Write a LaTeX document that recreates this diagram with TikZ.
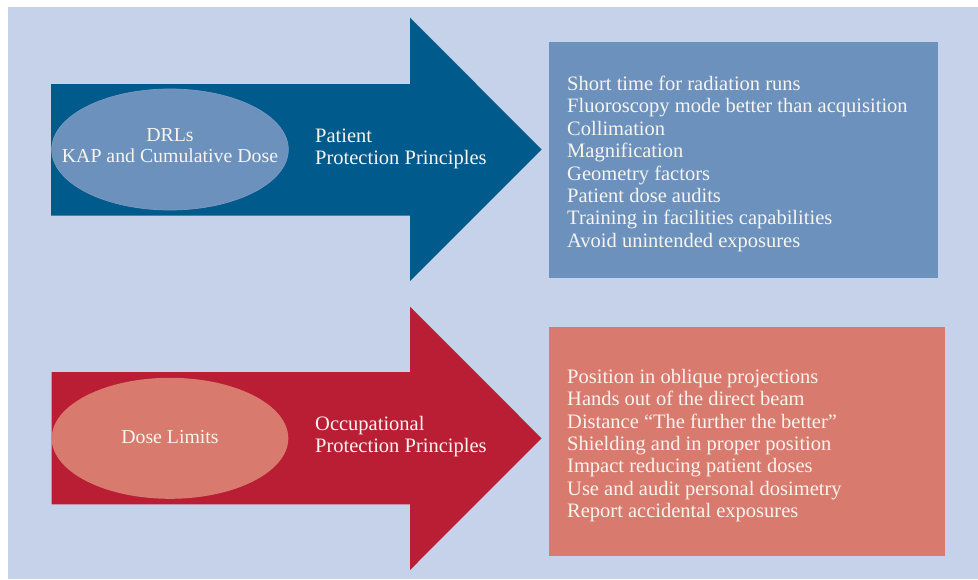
\documentclass[tikz,border=0pt]{standalone}
\usepackage{fontspec}
\setmainfont{Liberation Serif}
\usetikzlibrary{shapes.geometric}
\definecolor{bgblue}{HTML}{C5D2E9}
\definecolor{darkblue}{HTML}{005A8C}
\definecolor{midblue}{HTML}{6B91BC}
\definecolor{ringblue}{HTML}{7A9AC3}
\definecolor{darkred}{HTML}{BA1E34}
\definecolor{salmon}{HTML}{D97A6E}
\definecolor{txt}{HTML}{F8F4EF}
\begin{document}
\begin{tikzpicture}[x=1pt,y=-1pt,
  lbl/.style={text=txt, inner sep=0pt, font=\fontsize{20.5}{22}\selectfont},
  ovaltext/.style={text=txt, inner sep=0pt, font=\fontsize{19.8}{21.5}\selectfont},
  listtext/.style={text=txt, inner sep=0pt, align=left, anchor=north west, font=\fontsize{20.5}{22.35}\selectfont},
  panel/.style={rectangle, inner sep=0pt, anchor=north west},
  oval/.style={ellipse, inner sep=0pt, minimum width=236.6pt, minimum height=121pt}]
\useasboundingbox (0,0) rectangle (978,579);
\fill[white] (0,0) rectangle (978,579);
\fill[bgblue] (8,7) rectangle (978,579);

% arrows
\fill[darkblue] (51,84) -- (410,84) -- (410,17.5) -- (541.5,149.5) -- (410,281) -- (410,215.5) -- (51,215.5) -- cycle;
\fill[darkred] (51.5,372) -- (410,372) -- (410,306.5) -- (541.5,438.3) -- (410,570) -- (410,504.3) -- (51.5,504.3) -- cycle;

% panels
\node[panel, fill=midblue, minimum width=389pt, minimum height=236pt] (pbox) at (549,42) {};
\node[panel, fill=salmon, minimum width=396pt, minimum height=229pt] (obox) at (549,327) {};

% ellipses
\node[oval, fill=midblue, draw=ringblue, line width=0.7pt] (drl) at (170,149.5) {};
\node[oval, fill=salmon] (dl) at (170,438.3) {};

% texts
\node[ovaltext, align=center] (drltext) at (170,145.5) {DRLs\\KAP and Cumulative Dose};
\node[ovaltext, align=center] (dltext) at (170,437) {Dose Limits};
\node[lbl, align=left, anchor=west] (ppp) at (315,149) {Patient\\Protection Principles};
\node[lbl, align=left, anchor=west] (opp) at (315,437) {Occupational\\Protection Principles};

\node[listtext] (plist) at (567,76) {Short time for radiation runs\\Fluoroscopy mode better than acquisition\\Collimation\\Magnification\\Geometry factors\\Patient dose audits\\Training in facilities capabilities\\Avoid unintended exposures};
\node[listtext] (olist) at (567,369) {Position in oblique projections\\Hands out of the direct beam\\Distance “The further the better”\\Shielding and in proper position\\Impact reducing patient doses\\Use and audit personal dosimetry\\Report accidental exposures};
\end{tikzpicture}
\end{document}
